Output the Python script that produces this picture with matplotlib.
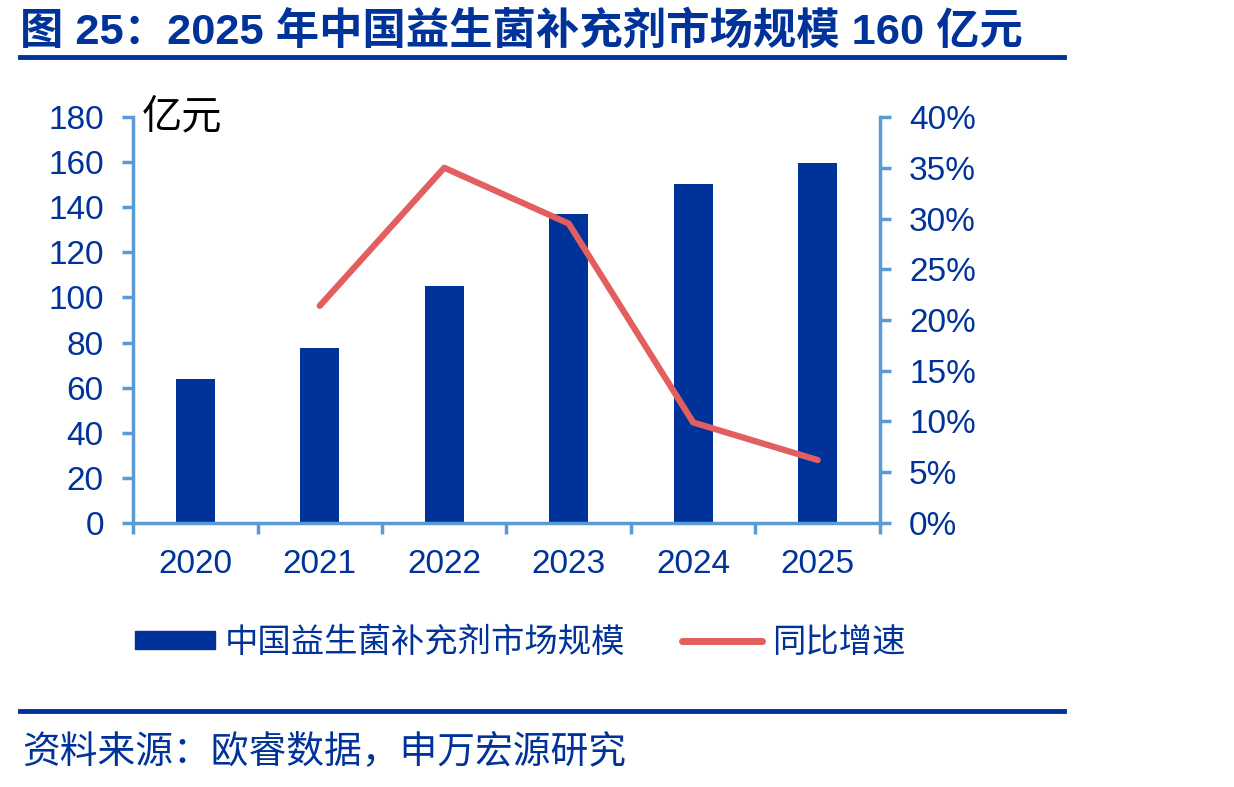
import numpy as np
import matplotlib.pyplot as plt
from matplotlib.lines import Line2D
from matplotlib.patches import Patch

# data
years = ['2020', '2021', '2022', '2023', '2024', '2025']
market_size = [64, 77.6, 105, 137, 150.3, 159.6]          # 亿元
growth_years = ['2021', '2022', '2023', '2024', '2025']
growth = [21.4, 35.0, 29.5, 9.9, 6.2]                    # %
left_ticks = list(range(0, 181, 20))
right_ticks = list(range(0, 41, 5))

blue = '#003399'
red = '#E35F5F'
axis_col = '#5B9BD5'

plt.rcParams['font.family'] = ['Liberation Sans', 'Noto Sans CJK SC', 'DejaVu Sans']

fig = plt.figure(figsize=(12.34, 7.87), dpi=100)
ax = fig.add_axes([0.1078, 0.3355, 0.6053, 0.5158])
ax2 = ax.twinx()

x = np.arange(len(years))
ax.bar(x, market_size, width=0.31, color=blue, zorder=2)
gx = [years.index(y) for y in growth_years]
ax2.plot(gx, growth, color=red, lw=4.5, solid_capstyle='round', zorder=3)

ax.set_xlim(-0.5, len(years) - 0.5)
ax.set_ylim(0, 180)
ax2.set_ylim(0, 40)
ax.set_yticks(left_ticks)
ax2.set_yticks(right_ticks)
ax2.set_yticklabels([f'{v}%' for v in right_ticks])

ax.set_xticks(x)
ax.set_xticklabels(years)
ax.set_xticks(np.arange(-0.5, len(years), 1), minor=True)
ax.tick_params(axis='x', which='major', length=0, pad=19, labelsize=24, labelcolor=blue)
ax.tick_params(axis='x', which='minor', length=8, width=2.5, color=axis_col, direction='out')
ax.tick_params(axis='y', length=8, width=2.5, color=axis_col, pad=13, labelsize=24, labelcolor=blue)
ax2.tick_params(axis='y', length=8, width=2.5, color=axis_col, pad=13, labelsize=24, labelcolor=blue)

for a in (ax, ax2):
    a.spines['top'].set_visible(False)
    for s in ['left', 'right', 'bottom']:
        a.spines[s].set_color(axis_col)
        a.spines[s].set_linewidth(2.5)
ax2.spines['left'].set_visible(False)
ax2.spines['bottom'].set_visible(False)
ax.spines['right'].set_visible(False)

ax.text(0.012, 1.0, '亿元', transform=ax.transAxes, fontsize=29, color='black',
        ha='left', va='center')

# title and rules
fig.text(0.016, 0.96, '图 25：2025 年中国益生菌补充剂市场规模 160 亿元', fontsize=31.2,
         fontweight='bold', color=blue, ha='left', va='center')
fig.add_artist(Line2D([0.016, 0.862], [0.9276, 0.9276], color=blue, lw=3.5))
fig.add_artist(Line2D([0.016, 0.862], [0.0966, 0.0966], color=blue, lw=3.5))
fig.text(0.018, 0.0445, '资料来源：欧睿数据，申万宏源研究', fontsize=27.2, color=blue,
         ha='left', va='center')

handles = [Patch(color=blue), Line2D([0], [0], color=red, lw=5, solid_capstyle='round')]
leg = fig.legend(handles, ['中国益生菌补充剂市场规模', '同比增速'], loc='center left',
                 bbox_to_anchor=(0.109, 0.183), ncol=2, frameon=False, fontsize=24,
                 handlelength=2.4, handleheight=0.45, handletextpad=0.3,
                 columnspacing=1.7, borderaxespad=0, borderpad=0)
for t in leg.get_texts():
    t.set_color(blue)

plt.savefig('out.png', dpi=100)
